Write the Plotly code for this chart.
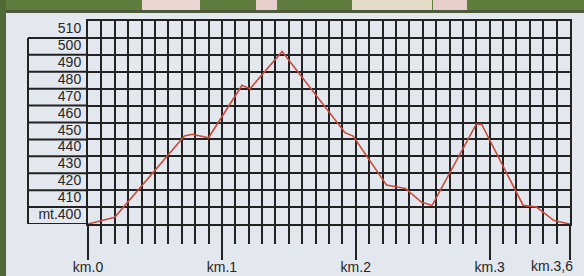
import plotly.graph_objects as go

# Profile data (km, metres)
km = [0, 0.2, 0.72, 0.78, 0.9, 1.15, 1.21, 1.45, 1.92, 1.98, 2.23, 2.37,
      2.49, 2.57, 2.9, 2.94, 3.25, 3.35, 3.48, 3.6]
elev = [400, 404, 452, 453, 451, 482, 480, 502, 454, 452, 423, 421,
        413, 411, 459, 459, 411, 410, 402, 400]

x_tickvals = [0, 1, 2, 3, 3.6]
x_ticktext = ["km.0", "km.1", "km.2", "km.3", "km.3,6"]
y_tickvals = [400, 410, 420, 430, 440, 450, 460, 470, 480, 490, 500, 510]
y_ticktext = ["mt.400", "410", "420", "430", "440", "450", "460", "470",
              "480", "490", "500", "510"]

INK = "#222222"
BG = "#e3e7ee"
TXT = "#262626"
FONT = "Liberation Sans, Arial, sans-serif"

fig = go.Figure()
fig.add_trace(go.Scatter(x=km, y=elev, mode="lines",
                         line=dict(color="#c94a3b", width=1.6),
                         hoverinfo="skip", showlegend=False))

W, H = 584, 276
ml, mr, mt, mb = 88, 14, 21, 52
pw, ph = W - ml - mr, H - mt - mb

def px_x(px):
    return (px - ml) / pw

def px_y(py):
    return (H - mb - py) / ph

shapes = []
# photo surroundings: green strip at top and left
shapes.append(dict(type="rect", xref="paper", yref="paper", x0=px_x(0), x1=px_x(W),
                   y0=px_y(11), y1=px_y(0), fillcolor="#5f7d3c", line=dict(width=0), layer="below"))
shapes.append(dict(type="rect", xref="paper", yref="paper", x0=px_x(0), x1=px_x(W),
                   y0=px_y(13), y1=px_y(10), fillcolor="#4d5a3c", line=dict(width=0), layer="below"))
shapes.append(dict(type="rect", xref="paper", yref="paper", x0=px_x(0), x1=px_x(6),
                   y0=px_y(H), y1=px_y(0), fillcolor="#4f6a36", line=dict(width=0), layer="below"))
for a, b, c in [(142, 200, "#e9d6d3"), (256, 277, "#e6cfcb"), (352, 432, "#e4dcc8"), (433, 467, "#e6cfcb")]:
    shapes.append(dict(type="rect", xref="paper", yref="paper", x0=px_x(a), x1=px_x(b),
                       y0=px_y(10), y1=px_y(0), fillcolor=c, line=dict(width=0), layer="below"))

# label box lines on the left of the grid
xl = px_x(28)
for v in y_tickvals:
    shapes.append(dict(type="line", xref="paper", yref="y", x0=xl, x1=0, y0=v, y1=v,
                       line=dict(color=INK, width=2)))
shapes.append(dict(type="line", xref="paper", yref="y", x0=xl, x1=xl,
                   y0=y_tickvals[0], y1=y_tickvals[-1], line=dict(color=INK, width=2)))

# last km label is drawn right-aligned so it stays inside the page
ticktext_axis = x_ticktext[:-1] + [""]
annotations = [dict(x=x_tickvals[-1], y=0, xref="x", yref="paper", text=x_ticktext[-1],
                    showarrow=False, xanchor="right", yanchor="top", xshift=5, yshift=-32,
                    font=dict(size=14, color=TXT, family=FONT))]

fig.update_layout(
    width=W, height=H,
    margin=dict(l=ml, r=mr, t=mt, b=mb, autoexpand=False),
    paper_bgcolor=BG, plot_bgcolor=BG,
    shapes=shapes, annotations=annotations,
    font=dict(family=FONT, color=TXT),
    xaxis=dict(range=[0, 3.6], tickvals=x_tickvals, ticktext=ticktext_axis,
               ticks="outside", ticklen=34, tickwidth=2, tickcolor=INK,
               ticklabelstandoff=-5,
               showgrid=True, gridcolor=INK, gridwidth=2, zeroline=False,
               showline=True, linecolor=INK, linewidth=2, mirror=True,
               tickfont=dict(size=14, color=TXT),
               minor=dict(dtick=0.1, tick0=0, ticks="outside", ticklen=18,
                          tickwidth=2, tickcolor=INK, showgrid=True,
                          gridcolor=INK, gridwidth=2)),
    yaxis=dict(range=[400, 520], tickvals=y_tickvals, ticktext=y_ticktext,
               ticks="", ticklabelposition="outside top", ticklabelstandoff=2,
               showgrid=True, gridcolor=INK, gridwidth=2, zeroline=False,
               showline=True, linecolor=INK, linewidth=2, mirror=True,
               tickfont=dict(size=14, color=TXT)),
)

fig.write_html("out.html", config={"displayModeBar": False},
               post_script="document.body.style.margin='0';document.body.style.padding='0';")
